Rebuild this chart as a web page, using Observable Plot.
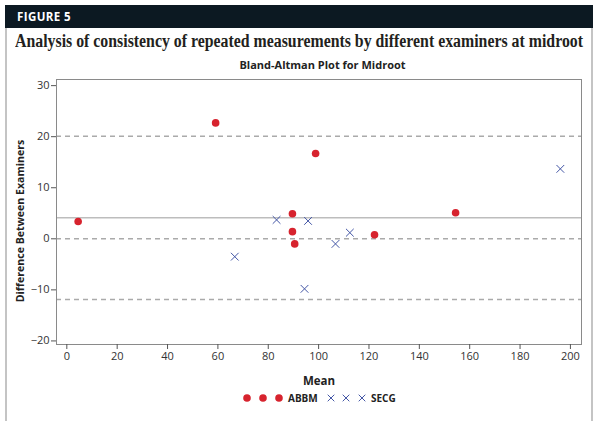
<!DOCTYPE html>
<html>
<head>
<meta charset="utf-8">
<script src="https://cdn.jsdelivr.net/npm/d3@7"></script>
<script src="https://cdn.jsdelivr.net/npm/@observablehq/plot@0.6"></script>
<style>
  html, body { margin: 0; padding: 0; background: #fff; }
  #page { position: relative; width: 600px; height: 429px; overflow: hidden; background: #fff; }
  #borderL, #borderR { position: absolute; top: 5px; width: 2px; height: 416px; background: #c4c4c4; }
  #borderL { left: 5px; }
  #borderR { left: 591px; }
  #bar { position: absolute; left: 5px; top: 5px; width: 588px; height: 23px; background: #0c1922; }
  #fig { position: absolute; left: 17px; top: 9px; font: bold 11.5px "Open Sans", sans-serif; color: #fff; letter-spacing: 0.4px; }
  #title { position: absolute; left: 15px; top: 31px; font: bold 18px "Liberation Serif", serif; color: #231f20; white-space: nowrap; transform-origin: 0 0; }
  #subtitle { position: absolute; left: 60px; width: 525px; top: 57px; text-align: center; font: bold 11px "Open Sans", sans-serif; color: #222; }
  #chart { position: absolute; left: 0; top: 72px; }
  #legend { position: absolute; left: 0; width: 600px; top: 390px; }
  #chart g[aria-label="x-axis label"] text { font-weight: bold; fill: #222; font-size: 11.5px; }
</style>
</head>
<body>
<div id="page">
  <div id="borderL"></div>
  <div id="borderR"></div>
  <div id="bar"></div>
  <div id="fig">FIGURE 5</div>
  <div id="title">Analysis of consistency of repeated measurements by different examiners at midroot</div>
  <div id="subtitle">Bland-Altman Plot for Midroot</div>
  <div id="chart"></div>
  <div id="legend"></div>
</div>
<script>
// ---- data ----
const abbmMean = [4.5, 59.1, 98.8, 89.6, 89.6, 90.5, 154.4, 122.2];
const abbmDiff = [3.4, 22.7, 16.7, 4.9, 1.4, -1.0, 5.1, 0.8];
const secgMean = [66.7, 83.3, 95.8, 106.7, 94.4, 112.4, 196.0];
const secgDiff = [-3.5, 3.7, 3.5, -1.0, -9.8, 1.2, 13.7];
const limitLines = [20.1, 0, -11.9];
const meanLine = [4.1];
const xTicks = [0, 20, 40, 60, 80, 100, 120, 140, 160, 180, 200];
const yTicks = [-20, -10, 0, 10, 20, 30];
const groups = ["ABBM", "SECG"];
const yLabel = "Difference Between Examiners";

const abbm = abbmMean.map((m, i) => ({mean: m, diff: abbmDiff[i], group: groups[0]}));
const secg = secgMean.map((m, i) => ({mean: m, diff: secgDiff[i], group: groups[1]}));

const RED = "#d7232e";
const BLUE = "#4457a6";

// fit the title width
const t = document.getElementById("title");
const w = t.getBoundingClientRect().width;
t.style.transform = `scaleX(${568 / w})`;

const chart = Plot.plot({
  width: 600,
  height: 318,
  marginTop: 7,
  marginLeft: 56,
  marginRight: 19,
  marginBottom: 46,
  style: {fontFamily: "'Open Sans', sans-serif", fontSize: "11px", color: "#333", background: "transparent"},
  x: {domain: [-4.1, 204.4]},
  y: {domain: [-20.7, 31.2]},
  marks: [
    Plot.ruleY(limitLines, {stroke: "#aaa", strokeWidth: 1.5, strokeDasharray: "5,4"}),
    Plot.ruleY(meanLine, {stroke: "#bdbdbd", strokeWidth: 1.5}),
    Plot.frame({stroke: "#8a8a8a"}),
    Plot.axisX({ticks: xTicks, tickSize: 5, tickPadding: 3, stroke: "#555", label: "Mean", labelAnchor: "center", labelArrow: "none", labelOffset: 40}),
    Plot.axisY({ticks: yTicks, tickSize: 5, tickPadding: 2, stroke: "#555", label: null}),
    Plot.text([yLabel], {text: d => d, frameAnchor: "left", rotate: -90, dx: -36, dy: 9, textAnchor: "middle",
      fontWeight: "bold", fontSize: 10.6, fill: "#222"}),
    Plot.dot(abbm, {x: "mean", y: "diff", r: 3.8, fill: RED, stroke: "none"}),
    Plot.dot(secg, {x: "mean", y: "diff", r: 3.6, symbol: "times", stroke: BLUE, strokeWidth: 1})
  ]
});
document.getElementById("chart").appendChild(chart);

// legend
const lg = d3.select("#legend").append("svg").attr("width", 600).attr("height", 20);
const items = [
  {label: groups[0], xs: [247, 263, 279], tx: 288, kind: "dot"},
  {label: groups[1], xs: [331, 346, 362], tx: 371, kind: "x"}
];
items.forEach(it => {
  it.xs.forEach(cx => {
    if (it.kind === "dot") {
      lg.append("circle").attr("cx", cx).attr("cy", 8).attr("r", 3.8).attr("fill", RED);
    } else {
      const s = 3.3;
      lg.append("path").attr("d", `M${cx - s},${8 - s}L${cx + s},${8 + s}M${cx - s},${8 + s}L${cx + s},${8 - s}`)
        .attr("stroke", BLUE).attr("stroke-width", 1).attr("fill", "none");
    }
  });
  lg.append("text").attr("x", it.tx).attr("y", 8).attr("dy", "0.35em")
    .attr("font-family", "'Open Sans', sans-serif").attr("font-size", 10).attr("font-weight", "bold")
    .attr("fill", "#222").text(it.label);
});
</script>
</body>
</html>
